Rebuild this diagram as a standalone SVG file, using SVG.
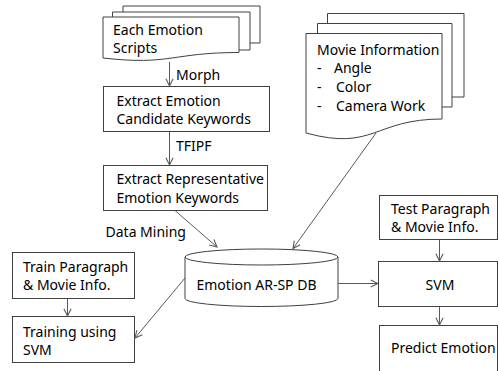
<svg xmlns="http://www.w3.org/2000/svg" width="499" height="371" viewBox="0 0 499 371">
<defs>
<style>
.s{fill:#fff;stroke:#404040;stroke-width:1}
.p{fill:none;stroke:#404040;stroke-width:1}
.c{fill:none;stroke:#595959;stroke-width:1;marker-end:url(#a)}
text{font-family:"Noto Sans","Liberation Sans",sans-serif;font-size:14px;fill:#000}
</style>
<marker id="a" viewBox="0 0 10 10" refX="9" refY="5" markerWidth="9" markerHeight="9" markerUnits="userSpaceOnUse" orient="auto">
<path d="M1,1 L9,5 L1,9" fill="none" stroke="#595959" stroke-width="1.2"/>
</marker>
</defs>
<rect width="499" height="371" fill="#fff"/>
<g id="scripts">
<path class="p" d="M123,12 V6 H260 V43 H250"/>
<path class="p" d="M112.5,17 V12 H250 V50 H239"/>
<path class="s" d="M103,17 H239 V52.5 C171,52.5 171,65.7 103,58 Z"/>
<text x="113" y="35">Each Emotion</text>
<text x="113" y="53">Scripts</text>
</g>
<g id="candidate">
<rect class="s" x="103.5" y="86.5" width="166" height="45"/>
<text x="116.5" y="106">Extract Emotion</text>
<text x="116.5" y="124">Candidate Keywords</text>
</g>
<g id="representative">
<rect class="s" x="103.5" y="165.5" width="164" height="45"/>
<text x="116.5" y="184">Extract Representative</text>
<text x="116.5" y="202.5">Emotion Keywords</text>
</g>
<g id="movie">
<path class="p" d="M327.5,23 V13.5 H464 V97 H452"/>
<path class="p" d="M317.5,33 V23.5 H452 V107 H442"/>
<path class="s" d="M306,33.5 H442 V119 C374,119 374,151.5 306,133 Z"/>
<text x="317" y="54.5">Movie Information</text>
<text x="317" y="73">-</text><text x="334" y="73">Angle</text>
<text x="317" y="92">-</text><text x="336" y="92">Color</text>
<text x="317" y="111">-</text><text x="336" y="111">Camera Work</text>
</g>
<g id="db">
<path class="s" d="M185,257 A76.5,8 0 0 1 338,257 V298.5 A76.5,8 0 0 1 185,298.5 Z"/>
<path class="p" d="M185,257 A76.5,8 0 0 0 338,257"/>
<text x="196.5" y="290">Emotion AR-SP DB</text>
</g>
<g id="train">
<rect class="s" x="12.5" y="252.5" width="122" height="46"/>
<text x="23" y="271.5">Train Paragraph</text>
<text x="23" y="290">&amp; Movie Info.</text>
</g>
<g id="training">
<rect class="s" x="12.5" y="316.5" width="122" height="46"/>
<text x="23" y="337">Training using</text>
<text x="23" y="355">SVM</text>
</g>
<g id="test">
<rect class="s" x="379.5" y="195.5" width="118" height="44"/>
<text x="391" y="213.5">Test Paragraph</text>
<text x="391" y="231.5">&amp; Movie Info.</text>
</g>
<g id="svm">
<rect class="s" x="378.5" y="261.5" width="119" height="45"/>
<text x="440" y="290" text-anchor="middle">SVM</text>
</g>
<g id="predict">
<rect class="s" x="379.5" y="325.5" width="118" height="50"/>
<text x="391" y="353">Predict Emotion</text>
</g>
<g id="connectors">
<path class="c" d="M169.5,62 V86"/>
<text x="176" y="80">Morph</text>
<path class="c" d="M169.5,132 V165"/>
<text x="176" y="151">TFIPF</text>
<path class="c" d="M175,210.5 L217,247"/>
<text x="105.5" y="236.5">Data Mining</text>
<path class="c" d="M376,133 L293,248.5"/>
<path class="c" d="M338,283.5 H378"/>
<path class="c" d="M439.5,239.5 V261"/>
<path class="c" d="M439.5,306.5 V325"/>
<path class="c" d="M67.5,298.5 V316"/>
<path class="c" d="M185,278 L135,338"/>
</g>
</svg>
